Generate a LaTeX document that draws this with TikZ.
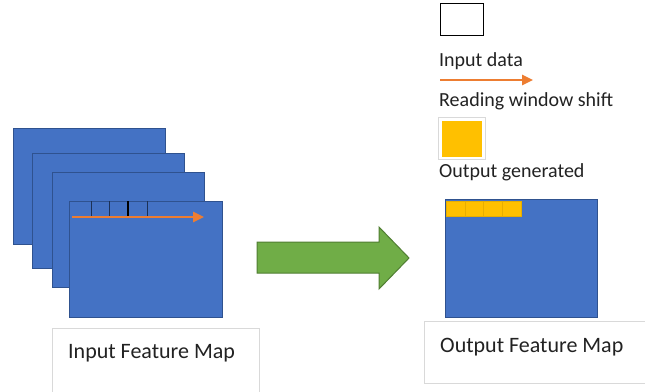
\documentclass[tikz,border=0pt]{standalone}
\usepackage{fontspec}
\setmainfont{Carlito}
\usetikzlibrary{arrows.meta}
\definecolor{mapblue}{HTML}{4472C4}
\definecolor{mapedge}{HTML}{2F528F}
\definecolor{shiftorange}{HTML}{ED7D31}
\definecolor{arrowgreen}{HTML}{70AD47}
\definecolor{arrowedge}{HTML}{507E32}
\definecolor{outyellow}{HTML}{FFC000}
\definecolor{yellowedge}{HTML}{E8AE00}
\definecolor{labeledge}{HTML}{D9D9D9}
\definecolor{txt}{HTML}{222222}
\tikzset{
  fmap/.style={draw=mapedge, fill=mapblue, line width=1pt, inner sep=0pt, anchor=north west},
  cell/.style={draw=yellowedge, fill=outyellow, line width=0.4pt, inner sep=0pt, anchor=north west, minimum width=19pt, minimum height=15pt},
  shiftarrow/.style={draw=shiftorange, line width=2.5pt, -{Triangle[length=11pt,width=10pt]}},
  tick/.style={draw=mapedge!60!black, line width=0.8pt},
  caption/.style={font=\fontsize{22}{26}\selectfont, text=txt, anchor=base west, inner sep=0pt},
  legtext/.style={font=\fontsize{20}{24}\selectfont, text=txt, anchor=base west, inner sep=0pt},
  labelbox/.style={draw=labeledge, line width=0.6pt, fill=white}
}
\begin{document}
\begin{tikzpicture}[x=1pt,y=-1pt]
\useasboundingbox[fill=white] (0,0) rectangle (645,391);
% label boxes
\draw[labelbox] (52,400) -- (52,328) -- (259,328) -- (259,400);
\draw[labelbox] (424,383) -- (424,321) -- (650,321);
\draw[draw=labeledge, line width=0.6pt] (424,383) -- (650,383);
% stacked input maps
\node[fmap, minimum width=152pt, minimum height=116pt] (m1) at (13,128) {};
\node[fmap, minimum width=152pt, minimum height=115pt] (m2) at (32,153) {};
\node[fmap, minimum width=152pt, minimum height=115pt] (m3) at (52,172) {};
\node[fmap, minimum width=153pt, minimum height=116pt] (m4) at (69,201) {};
% reading window ticks
\coordinate (t1a) at (91,201);  \coordinate (t1b) at (91,216);
\coordinate (t2a) at (109,201); \coordinate (t2b) at (109,216);
\coordinate (t3a) at (128,201); \coordinate (t3b) at (128,216);
\coordinate (t4a) at (147,201); \coordinate (t4b) at (147,216);
\draw[tick] (t1a) -- (t1b);
\draw[tick] (t2a) -- (t2b);
\draw[tick, draw=black, line width=1.3pt] (t3a) -- (t3b);
\draw[tick] (t4a) -- (t4b);
% shift arrow
\coordinate (sa) at (72,217);
\coordinate (sb) at (204,217);
\draw[shiftarrow] (sa) -- (sb);
% green arrow
\path[fill=arrowgreen, draw=arrowedge, line width=1pt]
  (257,242) -- (379,242) -- (379,227) -- (409,258) -- (379,289) -- (379,273) -- (257,273) -- cycle;
% output map
\node[fmap, minimum width=152pt, minimum height=118pt] (om) at (445,199) {};
\node[cell] (c1) at (446,201) {};
\node[cell] (c2) at (464.5,201) {};
\node[cell] (c3) at (483,201) {};
\node[cell] (c4) at (501.5,201) {};
% captions
\node[caption] (inlabel) at (68,358) {Input Feature Map};
\node[caption] (outlabel) at (440,352) {Output Feature Map};
% legend
\node[draw=black, line width=1.5pt, fill=white, inner sep=0pt, minimum width=43pt, minimum height=32pt, anchor=north west] (legin) at (439.5,2.5) {};
\node[legtext] (l1) at (439,66) {Input data};
\coordinate (la) at (440,80);
\coordinate (lb) at (533,80);
\draw[shiftarrow] (la) -- (lb);
\node[legtext] (l2) at (439,106) {Reading window shift};
\node[draw=labeledge, line width=0.5pt, fill=white, inner sep=0pt, minimum width=47pt, minimum height=42pt, anchor=north west] (legoutbg) at (438,117) {};
\node[fill=outyellow, inner sep=0pt, minimum width=40pt, minimum height=36pt, anchor=north west] (legout) at (442,121) {};
\node[legtext] (l3) at (439,177) {Output generated};
\end{tikzpicture}
\end{document}
